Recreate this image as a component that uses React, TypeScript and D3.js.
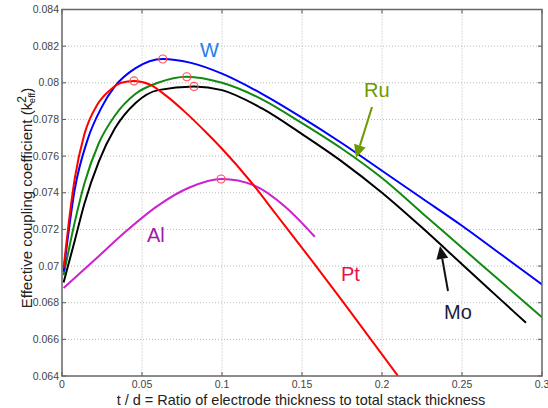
import * as d3 from 'd3';

// t/d values and k2eff values, one pair of arrays per electrode metal
const tdW = [0.001, 0.008, 0.016, 0.025, 0.033, 0.046, 0.063, 0.08, 0.1, 0.125, 0.15, 0.175, 0.2, 0.225, 0.25, 0.275, 0.3];
const kW = [0.0697, 0.0742, 0.0769, 0.0787, 0.0798, 0.0808, 0.0813, 0.0811, 0.0805, 0.0794, 0.0781, 0.0767, 0.0752, 0.0737, 0.0722, 0.0706, 0.069];

const tdRu = [0.001, 0.008, 0.014, 0.023, 0.033, 0.046, 0.06, 0.078, 0.1, 0.125, 0.15, 0.175, 0.2, 0.225, 0.25, 0.275, 0.3];
const kRu = [0.0695, 0.0724, 0.0745, 0.0767, 0.0782, 0.0794, 0.08, 0.08033, 0.08, 0.0791, 0.0778, 0.0764, 0.0748, 0.0729, 0.071, 0.0691, 0.0672];

const tdMo = [0.001, 0.008, 0.014, 0.023, 0.033, 0.046, 0.06, 0.0825, 0.1, 0.125, 0.15, 0.175, 0.2, 0.225, 0.25, 0.275, 0.29];
const kMo = [0.0691, 0.0714, 0.0734, 0.0757, 0.0775, 0.0789, 0.0796, 0.0798, 0.0796, 0.0786, 0.0772, 0.0757, 0.074, 0.0721, 0.0701, 0.0681, 0.0669];

const tdPt = [0.001, 0.004, 0.008, 0.014, 0.022, 0.03, 0.037, 0.045, 0.055, 0.065, 0.077, 0.09, 0.1, 0.118, 0.134, 0.157, 0.176, 0.21];
const kPt = [0.0699, 0.0722, 0.0748, 0.0772, 0.0788, 0.0796, 0.08, 0.0801, 0.0799, 0.0793, 0.0784, 0.0773, 0.0764, 0.0746, 0.0728, 0.0702, 0.068, 0.064];

const tdAl = [0.001, 0.02, 0.04, 0.06, 0.08, 0.1, 0.12, 0.14, 0.158];
const kAl = [0.0688, 0.0703, 0.0719, 0.0733, 0.0743, 0.07475, 0.0744, 0.0732, 0.0716];

// peak markers (red circles)
const peakTd = [0.063, 0.045, 0.078, 0.0825, 0.0994];
const peakK = [0.0813, 0.0801, 0.08033, 0.0798, 0.07475];

const xTicks = [0, 0.05, 0.1, 0.15, 0.2, 0.25, 0.3];
const yTicks = [0.064, 0.066, 0.068, 0.07, 0.072, 0.074, 0.076, 0.078, 0.08, 0.082, 0.084];

const W = 548;
const H = 408;
const left = 62;
const right = 542;
const top = 9.5;
const bottom = 376;

const font = 'Arial, "Liberation Sans", sans-serif';

export default function App() {
  const x = d3.scaleLinear().domain([0, 0.3]).range([left, right]);
  const y = d3.scaleLinear().domain([0.064, 0.084]).range([bottom, top]);

  const line = d3
    .line<[number, number]>()
    .x((d) => x(d[0]))
    .y((d) => y(d[1]))
    .curve(d3.curveMonotoneX);

  const zip = (a: number[], b: number[]) => a.map((v, i) => [v, b[i]] as [number, number]);

  const series = [
    { td: tdAl, k: kAl, color: '#cc22cc' },
    { td: tdMo, k: kMo, color: '#000000' },
    { td: tdRu, k: kRu, color: '#108a10' },
    { td: tdW, k: kW, color: '#0000ff' },
    { td: tdPt, k: kPt, color: '#ff0000' },
  ];

  const arrowHead = (x1: number, y1: number, x2: number, y2: number, color: string) => {
    const ang = Math.atan2(y2 - y1, x2 - x1);
    const len = 13;
    const half = 6;
    const bx = x2 - len * Math.cos(ang);
    const by = y2 - len * Math.sin(ang);
    const px = -Math.sin(ang) * half;
    const py = Math.cos(ang) * half;
    return (
      <g>
        <line x1={x1} y1={y1} x2={bx} y2={by} stroke={color} strokeWidth={2} />
        <polygon points={`${x2},${y2} ${bx + px},${by + py} ${bx - px},${by - py}`} fill={color} />
      </g>
    );
  };

  return (
    <svg width={W} height={H} style={{ position: 'absolute', left: 0, top: 0, background: '#fff' }} fontFamily={font}>
      <rect x={0} y={0} width={W} height={H} fill="#fff" />
      {/* grid */}
      <g stroke="#b8b8b8" strokeWidth={1} strokeDasharray="1,2">
        {xTicks.slice(1, -1).map((t) => (
          <line key={'gx' + t} x1={x(t)} x2={x(t)} y1={top} y2={bottom} />
        ))}
        {yTicks.slice(1, -1).map((t) => (
          <line key={'gy' + t} x1={left} x2={right} y1={y(t)} y2={y(t)} />
        ))}
      </g>
      {/* ticks inside the box */}
      <g stroke="#555" strokeWidth={1}>
        {xTicks.map((t) => (
          <g key={'tx' + t}>
            <line x1={x(t)} x2={x(t)} y1={bottom} y2={bottom - 4} />
            <line x1={x(t)} x2={x(t)} y1={top} y2={top + 4} />
          </g>
        ))}
        {yTicks.map((t) => (
          <g key={'ty' + t}>
            <line x1={left} x2={left + 4} y1={y(t)} y2={y(t)} />
            <line x1={right} x2={right - 4} y1={y(t)} y2={y(t)} />
          </g>
        ))}
      </g>
      <clipPath id="plot">
        <rect x={left} y={top} width={right - left} height={bottom - top} />
      </clipPath>
      <g clipPath="url(#plot)" fill="none" strokeWidth={2}>
        {series.map((s, i) => (
          <path key={i} d={line(zip(s.td, s.k)) || ''} stroke={s.color} />
        ))}
      </g>
      <g fill="none" stroke="#ff5050" strokeWidth={1.2}>
        {peakTd.map((t, i) => (
          <circle key={i} cx={x(t)} cy={y(peakK[i])} r={4} />
        ))}
      </g>
      <rect x={left} y={top} width={right - left} height={bottom - top} fill="none" stroke="#666" strokeWidth={1.5} />
      {/* tick labels */}
      <g fontSize={10.5} fill="#444">
        {yTicks.map((t) => (
          <text key={'ly' + t} x={left - 3} y={y(t) + 3.5} textAnchor="end">
            {String(+t.toFixed(3))}
          </text>
        ))}
        {xTicks.map((t) => (
          <text key={'lx' + t} x={x(t)} y={bottom + 11.5} textAnchor="middle">
            {String(+t.toFixed(2))}
          </text>
        ))}
      </g>
      <text x={301} y={404.5} textAnchor="middle" fontSize={14.5} fill="#222">
        t / d = Ratio of electrode thickness to total stack thickness
      </text>
      <text transform="translate(32,198) rotate(-90)" textAnchor="middle" fontSize={15} fill="#222">
        Effective coupling coefficient (k
        <tspan fontSize={12} dy={-6}>2</tspan>
        <tspan fontSize={9.5} dx={-7} dy={9}>eff</tspan>
        <tspan dy={-3}>)</tspan>
      </text>
      {/* series labels */}
      <g fontSize={20}>
        <text x={200} y={57} fill="#1e80f0">W</text>
        <text x={364} y={97} fill="#6e9a00">Ru</text>
        <text x={147} y={242} fill="#a01ca8">Al</text>
        <text x={341} y={281} fill="#e8124a">Pt</text>
        <text x={444} y={319} fill="#1a1a3c">Mo</text>
      </g>
      {arrowHead(372, 107, 356, 158, '#6e9a00')}
      {arrowHead(448, 291, 440, 246, '#111')}
    </svg>
  );
}
